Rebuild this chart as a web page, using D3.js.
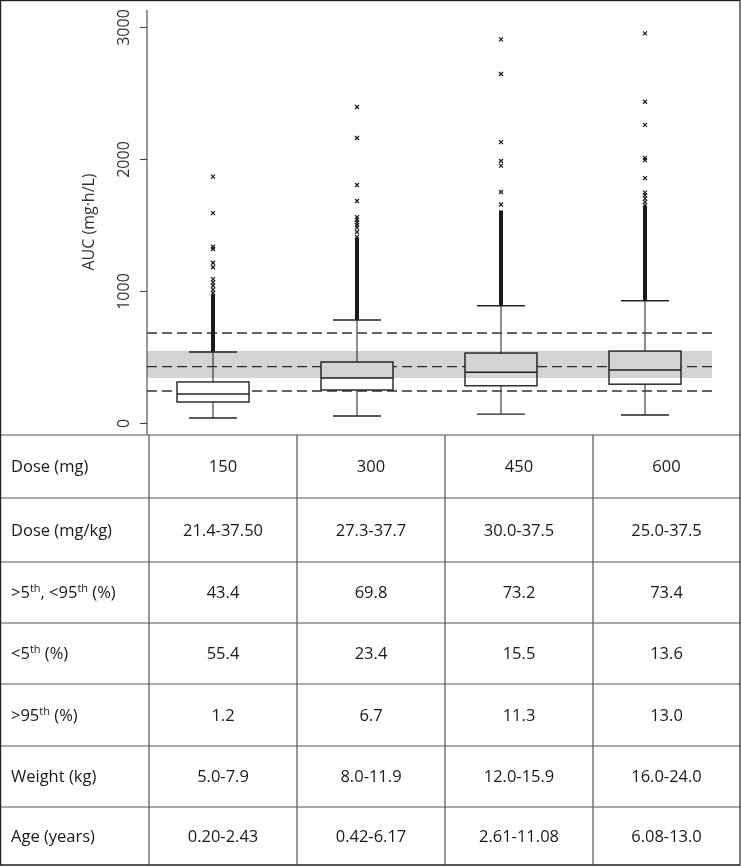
<!DOCTYPE html>
<html>
<head>
<meta charset="utf-8">
<script src="https://cdn.jsdelivr.net/npm/d3@7"></script>
<style>
  body { margin: 0; background: #fff; }
  svg { display: block; font-family: "Open Sans", "Noto Sans", sans-serif; }
</style>
</head>
<body>
<svg id="chart" width="741" height="866"></svg>
<script>
// dose groups and box statistics (AUC, mg·h/L)
const doses = ["150", "300", "450", "600"];
const whiskerLow = [38, 53, 67, 61];
const q1 = [159, 250, 282, 294];
const median = [220, 341, 385, 402];
const q3 = [311, 462, 530, 545];
const whiskerHigh = [538, 780, 888, 926];

// outliers: dense runs drawn as a bar, the rest as single crosses
const denseOutliers = [[538, 960], [780, 1390], [888, 1595], [926, 1630]];
const sparseOutliers = [
    [1866, 1590, 1336, 1318, 1214, 1180, 1090, 1065, 1040, 1010, 985],
    [2394, 2159, 1803, 1682, 1560, 1540, 1520, 1500, 1480, 1447, 1410],
    [2906, 2644, 2128, 1985, 1950, 1750, 1655],
    [2952, 2434, 2258, 2008, 1992, 1855, 1745, 1725, 1700, 1675, 1650]
];

// reference values
const refLines = [242, 427, 682];
const refBand = [341, 545];
const yTicks = [0, 1000, 2000, 3000];

// table under the plot
const rowLabels = [
    [["Dose (mg)"]],
    [["Dose (mg/kg)"]],
    [[">5"], ["th", true], [", <95"], ["th", true], [" (%)"]],
    [["<5"], ["th", true], [" (%)"]],
    [[">95"], ["th", true], [" (%)"]],
    [["Weight (kg)"]],
    [["Age (years)"]]
];
const rowValues = [
    ["150", "300", "450", "600"],
    ["21.4-37.50", "27.3-37.7", "30.0-37.5", "25.0-37.5"],
    ["43.4", "69.8", "73.2", "73.4"],
    ["55.4", "23.4", "15.5", "13.6"],
    ["1.2", "6.7", "11.3", "13.0"],
    ["5.0-7.9", "8.0-11.9", "12.0-15.9", "16.0-24.0"],
    ["0.20-2.43", "0.42-6.17", "2.61-11.08", "6.08-13.0"]
];

const svg = d3.select("#chart");
const ink = "#222";
const fontSize = 16.5;

const x = d3.scalePoint().domain(doses).range([213, 645]);
const y = d3.scaleLinear().domain([0, 3000]).range([423, 27]);
const plotLeft = 147, plotRight = 712;
const boxW = 72, capW = 48;

// reference lines (dashed)
svg.append("g").selectAll("line")
    .data(refLines)
    .join("line")
    .attr("x1", plotLeft).attr("x2", plotRight)
    .attr("y1", d => y(d)).attr("y2", d => y(d))
    .attr("stroke", "#333").attr("stroke-width", 1.4)
    .attr("stroke-dasharray", "10,5");

const boxes = svg.append("g").selectAll("g")
    .data(doses)
    .join("g");

// whiskers
boxes.append("line")
    .attr("x1", d => x(d)).attr("x2", d => x(d))
    .attr("y1", (d, i) => y(whiskerLow[i])).attr("y2", (d, i) => y(whiskerHigh[i]))
    .attr("stroke", "#444").attr("stroke-width", 1.2);
boxes.append("line")
    .attr("x1", d => x(d) - capW / 2).attr("x2", d => x(d) + capW / 2)
    .attr("y1", (d, i) => y(whiskerLow[i])).attr("y2", (d, i) => y(whiskerLow[i]))
    .attr("stroke", ink).attr("stroke-width", 1.4);
boxes.append("line")
    .attr("x1", d => x(d) - capW / 2).attr("x2", d => x(d) + capW / 2)
    .attr("y1", (d, i) => y(whiskerHigh[i])).attr("y2", (d, i) => y(whiskerHigh[i]))
    .attr("stroke", ink).attr("stroke-width", 1.4);

// boxes
boxes.append("rect")
    .attr("x", d => x(d) - boxW / 2)
    .attr("width", boxW)
    .attr("y", (d, i) => y(q3[i]))
    .attr("height", (d, i) => y(q1[i]) - y(q3[i]))
    .attr("fill", "#fff")
    .attr("stroke", ink).attr("stroke-width", 1.4);
boxes.append("line")
    .attr("x1", d => x(d) - boxW / 2).attr("x2", d => x(d) + boxW / 2)
    .attr("y1", (d, i) => y(median[i])).attr("y2", (d, i) => y(median[i]))
    .attr("stroke", ink).attr("stroke-width", 1.4);

// grey reference band, multiplied over the boxes
svg.append("rect")
    .attr("x", plotLeft).attr("width", plotRight - plotLeft)
    .attr("y", y(refBand[1])).attr("height", y(refBand[0]) - y(refBand[1]))
    .attr("fill", "#d4d4d4")
    .style("mix-blend-mode", "multiply");

// outliers
boxes.append("rect")
    .attr("x", d => x(d) - 2).attr("width", 4)
    .attr("y", (d, i) => y(denseOutliers[i][1]) - 2)
    .attr("height", (d, i) => y(denseOutliers[i][0]) - y(denseOutliers[i][1]) + 2)
    .attr("fill", "#1a1a1a");
boxes.each(function (d, i) {
    d3.select(this).selectAll("path.out")
        .data(sparseOutliers[i])
        .join("path")
        .attr("class", "out")
        .attr("transform", v => `translate(${x(d)},${y(v)})`)
        .attr("d", "M-2,-2L2,2M-2,2L2,-2")
        .attr("stroke", "#1a1a1a").attr("stroke-width", 1.2);
});

// y axis
const yAxis = svg.append("g")
    .attr("transform", `translate(${plotLeft},0)`)
    .call(d3.axisLeft(y).tickValues(yTicks).tickFormat(d3.format("d")).tickSize(7).tickSizeOuter(0));
yAxis.select(".domain").remove();
yAxis.selectAll(".tick line").attr("stroke", "#444").attr("stroke-width", 1.1);
yAxis.selectAll(".tick text")
    .attr("x", 0).attr("dy", 0)
    .attr("transform", "translate(-18,0) rotate(-90)")
    .attr("text-anchor", "middle")
    .attr("font-size", 16)
    .attr("font-family", "'Open Sans', 'Noto Sans', sans-serif")
    .attr("fill", "#333");
svg.append("line")
    .attr("x1", plotLeft).attr("x2", plotLeft)
    .attr("y1", 10).attr("y2", 435)
    .attr("stroke", "#444").attr("stroke-width", 1.1);
svg.append("text")
    .attr("transform", "translate(94,222) rotate(-90)")
    .attr("text-anchor", "middle")
    .attr("font-size", 16)
    .attr("fill", "#333")
    .text("AUC (mg·h/L)");

// table
const colEdges = [0, 149, 297, 445, 593, 740];
const rowEdges = [435, 498, 562, 623, 684, 746, 807, 865];
const grid = svg.append("g").attr("stroke", "#555").attr("stroke-width", 1.2);
grid.selectAll("line.h")
    .data(rowEdges)
    .join("line").attr("class", "h")
    .attr("x1", 0).attr("x2", 740)
    .attr("y1", d => d).attr("y2", d => d);
grid.selectAll("line.v")
    .data(colEdges.slice(1, -1))
    .join("line").attr("class", "v")
    .attr("x1", d => d).attr("x2", d => d)
    .attr("y1", rowEdges[0]).attr("y2", rowEdges[rowEdges.length - 1]);

const rowMid = i => (rowEdges[i] + rowEdges[i + 1]) / 2;

svg.append("g").selectAll("text")
    .data(rowLabels)
    .join("text")
    .attr("x", 11)
    .attr("y", (d, i) => rowMid(i))
    .attr("dy", "0.35em")
    .attr("font-size", fontSize)
    .attr("fill", "#1a1a1a")
    .each(function (parts) {
        d3.select(this).selectAll("tspan")
            .data(parts)
            .join("tspan")
            .attr("font-size", p => p[1] ? 11 : fontSize)
            .attr("dy", (p, j) => p[1] ? "-0.55em" : (j > 0 && parts[j - 1][1] ? "0.37em" : null))
            .text(p => p[0]);
    });

rowValues.forEach((vals, i) => {
    svg.append("g").selectAll("text")
        .data(vals)
        .join("text")
        .attr("x", (d, j) => (colEdges[j + 1] + colEdges[j + 2]) / 2)
        .attr("y", rowMid(i))
        .attr("dy", "0.35em")
        .attr("text-anchor", "middle")
        .attr("font-size", fontSize)
        .attr("fill", "#1a1a1a")
        .text(d => d);
});

// outer frame
svg.append("rect")
    .attr("x", 0.6).attr("y", 0.6)
    .attr("width", 739.4).attr("height", 864.4)
    .attr("fill", "none")
    .attr("stroke", "#222").attr("stroke-width", 1.2);
</script>
</body>
</html>
